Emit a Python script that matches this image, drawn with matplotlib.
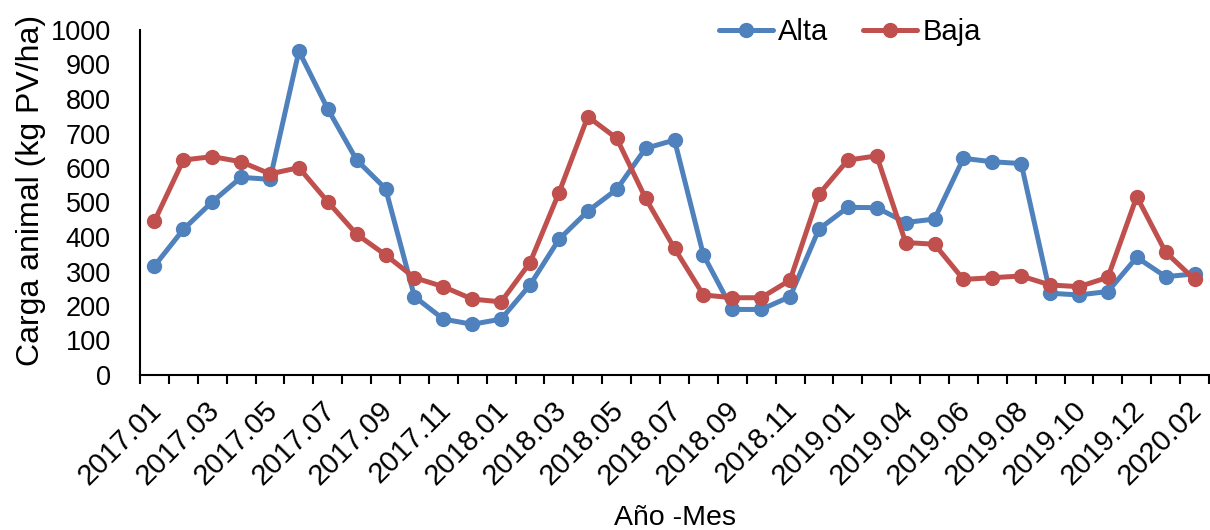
import numpy as np
import matplotlib
matplotlib.use("Agg")
import matplotlib.pyplot as plt
from matplotlib.transforms import ScaledTranslation

plt.rcParams['font.family'] = ['Liberation Sans', 'DejaVu Sans']

# Monthly periods (one month missing in early 2019)
periodos = ["2017.01", "2017.02", "2017.03", "2017.04", "2017.05", "2017.06",
            "2017.07", "2017.08", "2017.09", "2017.10", "2017.11", "2017.12",
            "2018.01", "2018.02", "2018.03", "2018.04", "2018.05", "2018.06",
            "2018.07", "2018.08", "2018.09", "2018.10", "2018.11", "2018.12",
            "2019.01", "2019.03", "2019.04", "2019.05", "2019.06", "2019.07",
            "2019.08", "2019.09", "2019.10", "2019.11", "2019.12", "2020.01",
            "2020.02"]

alta = [316, 422, 502, 573, 567, 939, 771, 623, 540, 227, 162, 147, 162, 261,
        393, 475, 538, 657, 681, 348, 190, 190, 227, 423, 486, 485, 442, 452,
        628, 618, 613, 237, 232, 242, 341, 285, 293]

baja = [446, 623, 633, 618, 583, 601, 502, 408, 348, 282, 256, 220, 212, 326,
        528, 749, 686, 512, 367, 232, 224, 224, 275, 524, 623, 635, 384, 379,
        277, 282, 287, 261, 256, 283, 517, 356, 277]

COLOR_ALTA = "#4F81BD"
COLOR_BAJA = "#C0504D"

fig = plt.figure(figsize=(12.1, 5.3), dpi=100)
ax = fig.add_axes([140 / 1210, 155 / 530, 1069 / 1210, 345 / 530])

x = np.arange(len(periodos))
ax.plot(x, alta, color=COLOR_ALTA, lw=3.6, marker="o", ms=10,
        label="Alta", solid_capstyle="round")
ax.plot(x, baja, color=COLOR_BAJA, lw=3.6, marker="o", ms=10,
        label="Baja", solid_capstyle="round")

ax.set_xlim(-0.5, len(periodos) - 0.5)
ax.set_ylim(0, 1000)

# y axis
ax.set_yticks(np.arange(0, 1001, 100))
ax.tick_params(axis="y", length=0, pad=21, labelsize=19.5)
ax.set_ylabel("Carga animal (kg PV/ha)", fontsize=23)
ax.yaxis.set_label_coords(-0.088, 0.536)

# x axis: tick marks between categories, labels on every other category
major = x[::2]
ax.set_xticks(major)
ax.set_xticklabels([periodos[i] for i in major], rotation=45, ha="right",
                   rotation_mode="anchor", fontsize=21)
ax.tick_params(axis="x", which="major", length=0, pad=15)
shift = ScaledTranslation(-7 / 100, 0, fig.dpi_scale_trans)
for lab in ax.get_xticklabels():
    lab.set_transform(lab.get_transform() + shift)
ax.set_xticks(np.arange(-0.5, len(periodos), 1), minor=True)
ax.tick_params(axis="x", which="minor", length=6.5, width=1.5, direction="out")
ax.set_xlabel("Año -Mes", fontsize=20.5, labelpad=11)

for side in ("top", "right"):
    ax.spines[side].set_visible(False)
for side in ("left", "bottom"):
    ax.spines[side].set_linewidth(1.5)

fig.legend(loc="center", bbox_to_anchor=(850 / 1210, 1 - 32 / 530), ncol=2,
           frameon=False, fontsize=21, handlelength=1.85, columnspacing=1.2,
           handletextpad=0.18, borderaxespad=0.0, borderpad=0.0)

fig.savefig("out.png", dpi=100)
